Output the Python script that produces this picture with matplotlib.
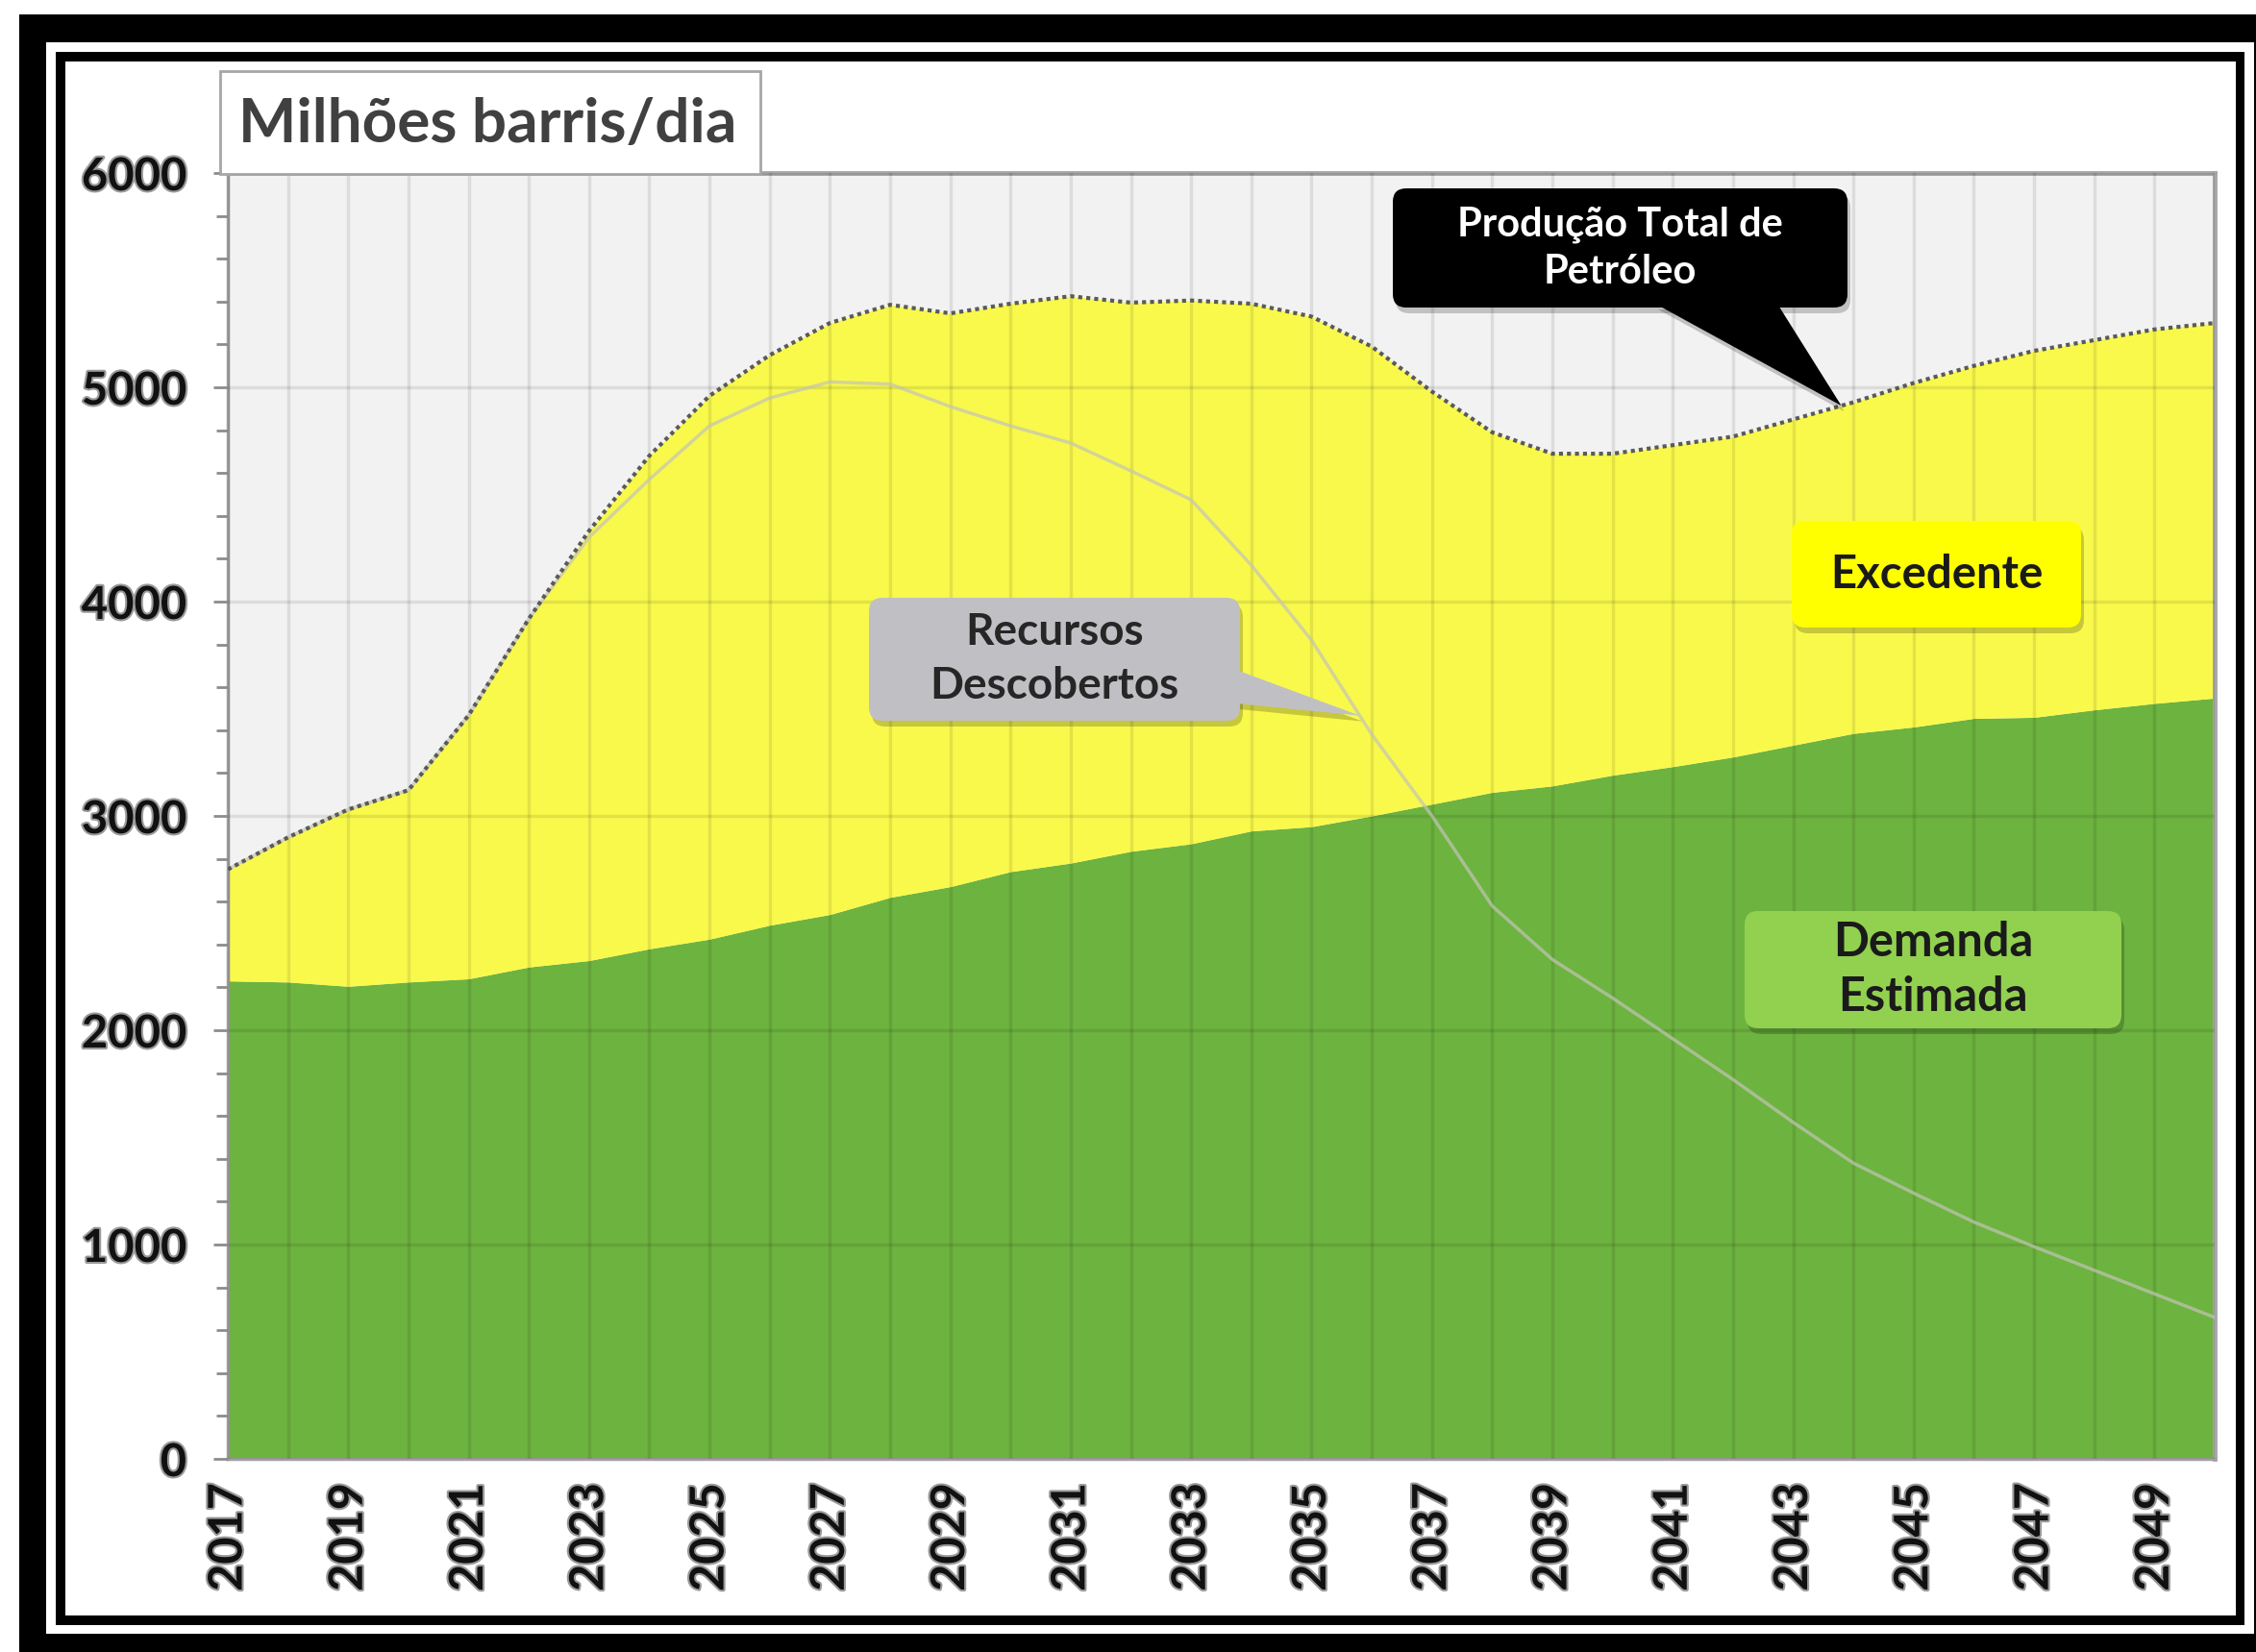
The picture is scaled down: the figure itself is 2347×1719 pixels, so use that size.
import numpy as np
import matplotlib
matplotlib.use("Agg")
import matplotlib.pyplot as plt
import matplotlib.patheffects as pe
from matplotlib.patches import Rectangle, FancyBboxPatch, Polygon
from matplotlib.ticker import FixedLocator, MultipleLocator
from matplotlib.transforms import IdentityTransform

# Data (milhões barris/dia)
years = list(range(2017, 2051))
producao_total = [2750, 2900, 3030, 3120, 3470, 3920, 4330, 4680, 4960, 5150,
                  5300, 5385, 5345, 5390, 5425, 5395, 5405, 5390, 5330, 5190,
                  4980, 4790, 4690, 4690, 4730, 4770, 4850, 4930, 5020, 5100,
                  5170, 5220, 5270, 5300]
demanda_estimada = [2230, 2225, 2205, 2225, 2240, 2295, 2325, 2380, 2425, 2490,
                    2540, 2620, 2670, 2740, 2780, 2835, 2870, 2930, 2950, 3000,
                    3055, 3110, 3140, 3190, 3230, 3275, 3330, 3385, 3415, 3455,
                    3460, 3495, 3525, 3550]
recursos_descobertos = [2750, 2900, 3030, 3120, 3470, 3920, 4300, 4570, 4820, 4950,
                        5025, 5015, 4910, 4820, 4740, 4610, 4475, 4170, 3820, 3380,
                        3000, 2580, 2330, 2150, 1960, 1770, 1570, 1380, 1240, 1105,
                        990, 880, 770, 660]
year_labels = years[::2]
y_ticks = list(range(0, 6001, 1000))

W, H = 2347, 1719
FONT = "Lato"

fig = plt.figure(figsize=(W / 100, H / 100), dpi=100)
fig.patch.set_facecolor("white")


def P(x, y):
    # pixel position measured from top-left -> display coords
    return (x, H - y)


def rect_px(x0, y0, x1, y1, **kw):
    r = Rectangle(P(x0, y1), x1 - x0, y1 - y0, transform=IdentityTransform(), **kw)
    fig.add_artist(r)
    return r


# double black frame
rect_px(20, 15, W + 10, H + 10, facecolor="black", edgecolor="none", zorder=-10)
rect_px(48, 44, 2345, 1700, facecolor="white", edgecolor="none", zorder=-9)
rect_px(58, 54, 2335, 1691, facecolor="black", edgecolor="none", zorder=-8)
rect_px(68, 64, 2326, 1681, facecolor="white", edgecolor="none", zorder=-7)

# plot area
ax = fig.add_axes([237 / W, 1 - 1518 / H, (2304 - 237) / W, (1518 - 180) / H])
ax.set_facecolor("#f2f2f2")

ax.fill_between(years, 0, demanda_estimada, color="#6db33f", linewidth=0, zorder=1)
ax.fill_between(years, demanda_estimada, producao_total, color="#f9f94c", linewidth=0, zorder=1)
ax.plot(years, recursos_descobertos, color="#c4c4b8", linewidth=2.5, alpha=0.7, zorder=3)
ax.plot(years, producao_total, color="#5a5a5a", linewidth=3, linestyle=(0, (1, 1)), zorder=4)

ax.set_xlim(2017, 2050)
ax.set_ylim(0, 6000)

ax.xaxis.set_major_locator(FixedLocator(year_labels))
ax.xaxis.set_minor_locator(FixedLocator(years))
ax.set_yticks(y_ticks)
ax.yaxis.set_minor_locator(MultipleLocator(200))

ax.set_axisbelow(False)
ax.grid(True, axis="x", which="both", color="black", alpha=0.09, linewidth=2.5)
ax.grid(True, axis="y", which="major", color="black", alpha=0.09, linewidth=2.5)

label_fx = [pe.withStroke(linewidth=3, foreground="#9a9a9a")]
ax.set_xticklabels([str(y) for y in year_labels], rotation=90, fontsize=35,
                   fontweight="bold", family=FONT, color="#111111")
ax.set_yticklabels([str(v) for v in y_ticks], fontsize=34,
                   fontweight="bold", family=FONT, color="#111111")
for t in ax.get_xticklabels() + ax.get_yticklabels():
    t.set_path_effects(label_fx)

ax.tick_params(axis="x", which="both", length=0, pad=18)
ax.tick_params(axis="y", which="major", length=11, width=2, color="#8c8c8c", pad=20)
ax.tick_params(axis="y", which="minor", length=9, width=2, color="#8c8c8c")

for side in ["left", "bottom"]:
    ax.spines[side].set_color("#a0a0a0")
    ax.spines[side].set_linewidth(2.5)
for side in ["top", "right"]:
    ax.spines[side].set_color("#a6a6a6")
    ax.spines[side].set_linewidth(3.5)

# title box
rect_px(229, 74, 791, 181, facecolor="white", edgecolor="#a6a6a6", linewidth=2, zorder=5)
fig.text(248 / W, 1 - 148 / H, "Milhões barris/dia", fontsize=46, fontweight="bold",
         family=FONT, color="#404040", ha="left", va="baseline", zorder=6)


def tip_px(year, series):
    # display position of a point on one of the curves
    return tuple(ax.transData.transform((year, np.interp(year, years, series))))


def callout(x0, y0, x1, y1, fc, text, tc, fs, ls=1.2, tail=None, tip=None, zorder=8):
    tr = IdentityTransform()
    w, h = x1 - x0, y1 - y0
    # shadow
    sh = FancyBboxPatch((x0 + 3, H - y1 - 6), w, h, boxstyle="round,pad=0,rounding_size=14",
                        facecolor="black", alpha=0.2, edgecolor="none",
                        transform=tr, zorder=zorder - 1)
    fig.add_artist(sh)
    if tail is not None:
        pts = [P(*tail[0]), tip, P(*tail[1])]
        shp = Polygon([(px + 3, py - 6) for px, py in pts], closed=True, facecolor="black",
                      alpha=0.2, edgecolor="none", transform=tr, zorder=zorder - 1)
        fig.add_artist(shp)
        fig.add_artist(Polygon(pts, closed=True, facecolor=fc, edgecolor="none",
                               transform=tr, zorder=zorder))
    box = FancyBboxPatch((x0, H - y1), w, h, boxstyle="round,pad=0,rounding_size=14",
                         facecolor=fc, edgecolor="none", transform=tr, zorder=zorder)
    fig.add_artist(box)
    fig.text((x0 + x1) / 2 / W, 1 - (y0 + y1) / 2 / H, text, fontsize=fs, fontweight="bold",
             family=FONT, color=tc, ha="center", va="center", linespacing=ls,
             zorder=zorder + 1)


callout(1449, 196, 1922, 320, "black", "Produção Total de\nPetróleo", "white", 30, ls=1.35,
        tail=[(1722, 316), (1849, 316)], tip=tip_px(2043.8, producao_total))
callout(904, 622, 1290, 750, "#c0c0c4", "Recursos\nDescobertos", "#262626", 33, ls=1.4,
        tail=[(1286, 697), (1286, 732)], tip=tip_px(2035.8, recursos_descobertos))
callout(1864, 542, 2165, 653, "#ffff00", "Excedente", "#1a1a1a", 34)
callout(1815, 948, 2207, 1070, "#92d050", "Demanda\nEstimada", "#1a1a1a", 35, ls=1.3)

fig.savefig("out.png", dpi=100)
